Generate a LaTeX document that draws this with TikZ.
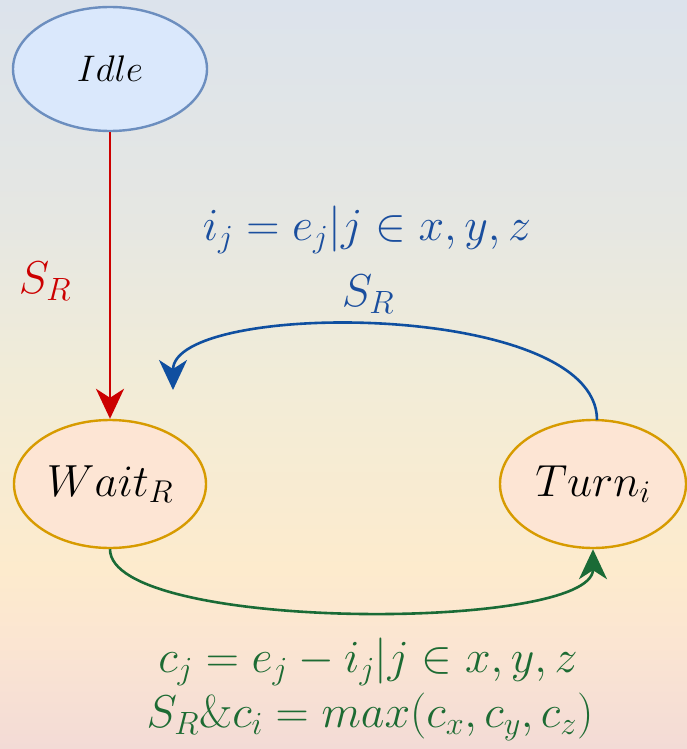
\RequirePackage{fix-cm}
\documentclass[tikz,border=0pt]{standalone}
\usetikzlibrary{shapes.geometric,arrows.meta}
\definecolor{bgA}{HTML}{DCE3EC}
\definecolor{bgB}{HTML}{E6E7E2}
\definecolor{bgC}{HTML}{F1ECD8}
\definecolor{bgD}{HTML}{FDEBCD}
\definecolor{bgE}{HTML}{FBE5D2}
\definecolor{bgF}{HTML}{F3DBD6}
\definecolor{idlefill}{HTML}{DAE8FC}
\definecolor{idledraw}{HTML}{6C8EBF}
\definecolor{stfill}{HTML}{FDE5D4}
\definecolor{stdraw}{HTML}{D79B00}
\definecolor{cred}{HTML}{CC0000}
\definecolor{cblue}{HTML}{0F4FA0}
\definecolor{tblue}{HTML}{1A4E9E}
\definecolor{cgreen}{HTML}{1A6B36}
\definecolor{tgreen}{HTML}{1D6B33}
\pgfdeclareverticalshading{bgshade}{100bp}{
  color(0bp)=(bgF); color(25bp)=(bgF); color(32bp)=(bgE); color(37bp)=(bgD);
  color(50bp)=(bgC); color(60bp)=(bgB); color(75bp)=(bgA); color(100bp)=(bgA)}
\tikzset{
  statebox/.style={ellipse, draw=stdraw, fill=stfill, line width=2.4pt, inner sep=0pt,
    minimum width=192pt, minimum height=128pt, font=\fontsize{45}{52}\selectfont},
  idlebox/.style={ellipse, draw=idledraw, fill=idlefill, line width=2.4pt, inner sep=0pt,
    minimum width=194pt, minimum height=124pt, font=\fontsize{37}{44}\selectfont},
  conn/.style={line width=2.6pt, -{Stealth[length=30pt, width=28pt, inset=9pt]}},
  lab/.style={inner sep=0pt, font=\fontsize{46}{54}\selectfont}
}
\begin{document}
\begin{tikzpicture}[x=1pt, y=-1pt]
\useasboundingbox (0,0) rectangle (687,749);
\shade[shading=bgshade] (0,0) rectangle (687,749);
\node[idlebox] (idle) at (110,69) {$Idle$};
\node[statebox] (wait) at (110,484) {$Wait_R$};
\node[statebox, minimum width=186pt] (turn) at (593,484) {$Turn_i$};
\coordinate (bstart) at (597,420);
\coordinate (bend) at (173,390);
\draw[conn, cblue] (bstart) .. controls (597,300) and (173,300) .. (bend);
\draw[conn, cred] (idle.south) -- (wait.north);
\draw[conn, cgreen] (wait.south) .. controls (110,632) and (593,632) .. (turn.south);
\node[lab, text=cred] (lred) at (45,281) {$S_R$};
\node[lab, text=tblue] (lb1) at (367,230) {$i_j = e_j | j \in x,y,z$};
\node[lab, text=tblue] (lb2) at (368,294) {$S_R$};
\node[lab, text=tgreen] (lg1) at (368,662) {$c_j = e_j - i_j | j \in x,y,z$};
\node[lab, text=tgreen] (lg2) at (370,717) {$S_R\&c_i = max(c_x,c_y,c_z)$};
\end{tikzpicture}
\end{document}
